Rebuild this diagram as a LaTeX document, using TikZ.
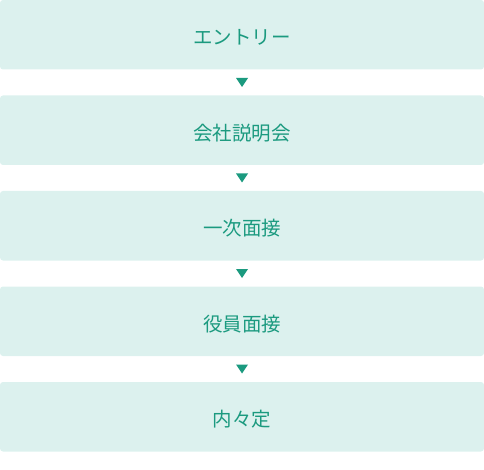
\documentclass[tikz,border=0pt]{standalone}
\usepackage{fontspec}
\newfontfamily\cjk{Noto Sans CJK JP}
\usetikzlibrary{calc}
\definecolor{boxfill}{HTML}{DCF1EE}
\definecolor{teal}{HTML}{1B9A7F}
\tikzset{
  stepbox/.style={fill=boxfill, rounded corners=3pt, minimum width=484pt, minimum height=69.5pt, inner sep=0pt, draw=none},
  steplabel/.style={text=teal, font=\cjk\fontsize{19.5pt}{22pt}\selectfont, inner sep=0pt},
}
\begin{document}
\begin{tikzpicture}[x=1pt,y=-1pt]
\useasboundingbox (0,0) rectangle (484,470);
\foreach \i/\t in {1/エントリー,2/会社説明会,3/一次面接,4/役員面接,5/内々定}{
  \node[stepbox] (b\i) at (242,{34.75+95.5*(\i-1)}) {};
  \node[steplabel] (l\i) at ($(b\i.center)+(0,2.5)$) {\t};
}
\foreach \i [evaluate=\i as \j using int(\i+1)] in {1,2,3,4}{
  \coordinate (m\i) at ($(b\i.south)!0.5!(b\j.north)$);
  \fill[teal] ($(m\i)+(-6,-4.5)$) -- ($(m\i)+(6,-4.5)$) -- ($(m\i)+(0,4.5)$) -- cycle;
}
\end{tikzpicture}
\end{document}
